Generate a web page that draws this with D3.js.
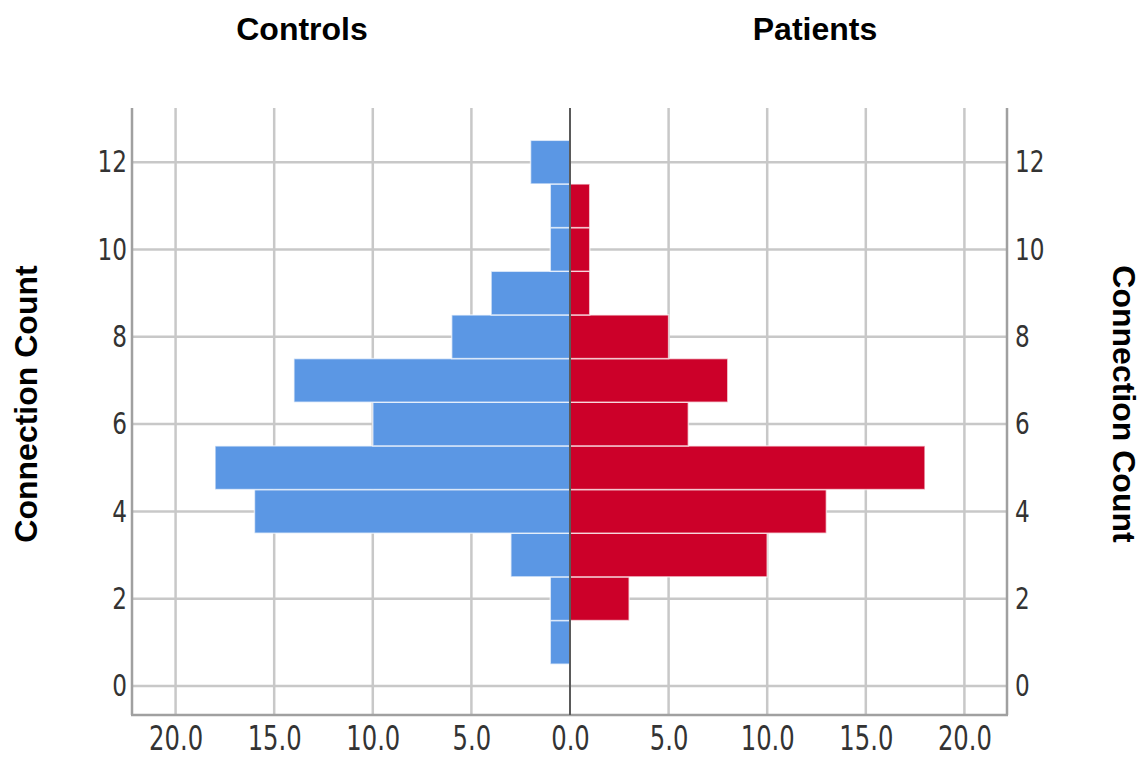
<!DOCTYPE html>
<html>
<head>
<meta charset="utf-8">
<script src="https://cdn.jsdelivr.net/npm/d3@7"></script>
<style>
  body { margin: 0; background: #fff; }
  .tick text { font-family: "DejaVu Sans Condensed", "DejaVu Sans", sans-serif; font-stretch: condensed; fill: #333; }
  .title { font-family: "Liberation Sans", Arial, sans-serif; font-weight: bold; fill: #000; }
</style>
</head>
<body>
<script>
// connection count bins and frequencies per group
var counts = [0, 1, 2, 3, 4, 5, 6, 7, 8, 9, 10, 11, 12];
var controls = [0, 1, 1, 3, 16, 18, 10, 14, 6, 4, 1, 1, 2];
var patients = [0, 0, 3, 10, 13, 18, 6, 8, 5, 1, 1, 1, 0];
var freqTicks = [0, 5, 10, 15, 20];
var countTicks = [0, 2, 4, 6, 8, 10, 12];

var w = 1142;
var h = 757;
// plot box
var cx = 570, pLeft = 132, pRight = 1007, pTop = 108, pBottom = 715;

var svg = d3.select("body").append("svg")
    .attr("width", w).attr("height", h);

var y = d3.scaleLinear().domain([-0.664, 13.24]).range([pBottom, pTop]);
var xL = d3.scaleLinear().domain([0, 22.21]).range([cx, pLeft]);
var xR = d3.scaleLinear().domain([0, 22.16]).range([cx, pRight]);

// grid
var grid = svg.append("g");
grid.selectAll("line.h")
    .data(countTicks)
    .enter().append("line")
    .attr("x1", pLeft).attr("x2", pRight)
    .attr("y1", function (d) { return y(d); })
    .attr("y2", function (d) { return y(d); })
    .attr("stroke", "#c8c8c8").attr("stroke-width", 2.5);
grid.selectAll("line.vl")
    .data(freqTicks.slice(1))
    .enter().append("line")
    .attr("x1", function (d) { return xL(d); })
    .attr("x2", function (d) { return xL(d); })
    .attr("y1", pTop).attr("y2", pBottom)
    .attr("stroke", "#c8c8c8").attr("stroke-width", 2.5);
grid.selectAll("line.vr")
    .data(freqTicks.slice(1))
    .enter().append("line")
    .attr("x1", function (d) { return xR(d); })
    .attr("x2", function (d) { return xR(d); })
    .attr("y1", pTop).attr("y2", pBottom)
    .attr("stroke", "#c8c8c8").attr("stroke-width", 2.5);

// bars
var bh = y(0) - y(1);
svg.append("g").selectAll("rect")
    .data(counts.filter(function (d, i) { return controls[i] > 0; }))
    .enter().append("rect")
    .attr("x", function (d) { return xL(controls[d]); })
    .attr("y", function (d) { return y(d + 0.5); })
    .attr("width", function (d) { return cx - xL(controls[d]); })
    .attr("height", bh)
    .attr("fill", "#5b97e4")
    .attr("stroke", "rgba(255,255,255,0.65)").attr("stroke-width", 1.5);
svg.append("g").selectAll("rect")
    .data(counts.filter(function (d, i) { return patients[i] > 0; }))
    .enter().append("rect")
    .attr("x", cx)
    .attr("y", function (d) { return y(d + 0.5); })
    .attr("width", function (d) { return xR(patients[d]) - cx; })
    .attr("height", bh)
    .attr("fill", "#cc0029")
    .attr("stroke", "rgba(255,255,255,0.65)").attr("stroke-width", 1.5);

// axis lines
svg.append("line").attr("x1", pLeft).attr("x2", pLeft).attr("y1", pTop).attr("y2", pBottom)
    .attr("stroke", "#a0a0a0").attr("stroke-width", 2.5);
svg.append("line").attr("x1", pRight).attr("x2", pRight).attr("y1", pTop).attr("y2", pBottom)
    .attr("stroke", "#a0a0a0").attr("stroke-width", 2.5);
svg.append("line").attr("x1", pLeft - 1).attr("x2", pRight + 1).attr("y1", pBottom).attr("y2", pBottom)
    .attr("stroke", "#a0a0a0").attr("stroke-width", 2.5);
svg.append("line").attr("x1", cx).attr("x2", cx).attr("y1", pTop).attr("y2", pBottom)
    .attr("stroke", "#5a5a5a").attr("stroke-width", 2);

// tick labels
var fmt = d3.format(".1f");
var yl = svg.append("g").attr("transform", "translate(" + (pLeft - 5) + ",0)")
    .call(d3.axisLeft(y).tickValues(countTicks).tickSize(0).tickPadding(0));
var yr = svg.append("g").attr("transform", "translate(" + (pRight + 8) + ",0)")
    .call(d3.axisRight(y).tickValues(countTicks).tickSize(0).tickPadding(0));
var xbl = svg.append("g").attr("transform", "translate(0," + (pBottom + 12) + ")")
    .call(d3.axisBottom(xL).tickValues(freqTicks).tickFormat(fmt).tickSize(0).tickPadding(0));
var xbr = svg.append("g").attr("transform", "translate(0," + (pBottom + 12) + ")")
    .call(d3.axisBottom(xR).tickValues(freqTicks.slice(1)).tickFormat(fmt).tickSize(0).tickPadding(0));
[yl, yr, xbl, xbr].forEach(function (g) {
    g.select(".domain").remove();
    g.selectAll("text").attr("font-size", 28).attr("fill", "#2b2b2b")
        .attr("transform", "scale(0.92,1.1)");
});
[xbl, xbr].forEach(function (g) {
    g.selectAll("text").attr("font-size", 30).attr("transform", "scale(0.9,1.1)");
});

// titles
svg.append("text").attr("class", "title").attr("x", 302).attr("y", 40)
    .attr("text-anchor", "middle").attr("font-size", 32).text("Controls");
svg.append("text").attr("class", "title").attr("x", 815).attr("y", 40)
    .attr("text-anchor", "middle").attr("font-size", 32).text("Patients");
svg.append("text").attr("class", "title")
    .attr("transform", "translate(37,404) rotate(-90)")
    .attr("text-anchor", "middle").attr("font-size", 32).text("Connection Count");
svg.append("text").attr("class", "title")
    .attr("transform", "translate(1113,404) rotate(90)")
    .attr("text-anchor", "middle").attr("font-size", 32).text("Connection Count");
</script>
</body>
</html>
